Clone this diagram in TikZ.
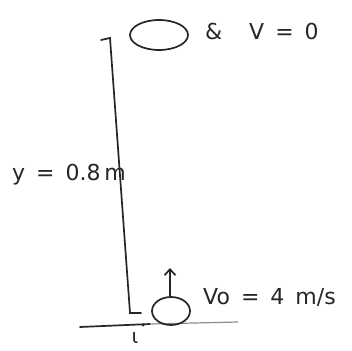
\documentclass[tikz,border=0pt]{standalone}
\usepackage{fontspec}
\setmainfont{DejaVu Sans}
\usetikzlibrary{arrows.meta}
\begin{document}
\begin{tikzpicture}[x=1pt,y=-1pt,
  ink/.style={line width=1.7pt,draw=black!85,line cap=round},
  lbl/.style={font=\fontsize{22}{22}\selectfont,text=black!85,inner sep=0pt}]
\useasboundingbox[fill=white] (0,0) rectangle (352,350);
% top ball and label
\draw[ink] (159,35) ellipse [x radius=29,y radius=15];
\node[lbl,anchor=west] (amp) at (205,31) {\&};
\node[lbl,anchor=west] (vtop) at (249,31) {V\enspace=\enspace0};
% height line
\coordinate (tt) at (101,40);
\coordinate (top) at (110,38);
\coordinate (bot) at (130,313);
\coordinate (bt) at (141,313);
\draw[ink] (tt) -- (top) -- (bot) -- (bt);
\node[lbl,anchor=west] (ylab) at (12,175) {y\enspace=\enspace0.8\,m};
% ground
\coordinate (g0) at (80,327);
\coordinate (g1) at (150,324);
\coordinate (g2) at (238,322);
\draw[ink] (g0) -- (g1);
\draw[line width=1.2pt,draw=black!45] (g1) -- (g2);
\fill[black!85] (143,325) circle (1.6);
\node[font=\fontsize{20}{20}\selectfont,text=black!85,inner sep=0pt] (i) at (135,338) {ι};
% bottom ball
\draw[ink] (171,311) ellipse [x radius=19,y radius=14];
\coordinate (ar0) at (170,297);
\coordinate (ar1) at (170,268);
\draw[ink,-{Straight Barb[length=6pt,width=11pt]}] (ar0) -- (ar1);
\node[lbl,anchor=west] (v0) at (203,297) {Vo\enspace=\enspace4\enspace m/s};
\end{tikzpicture}
\end{document}
